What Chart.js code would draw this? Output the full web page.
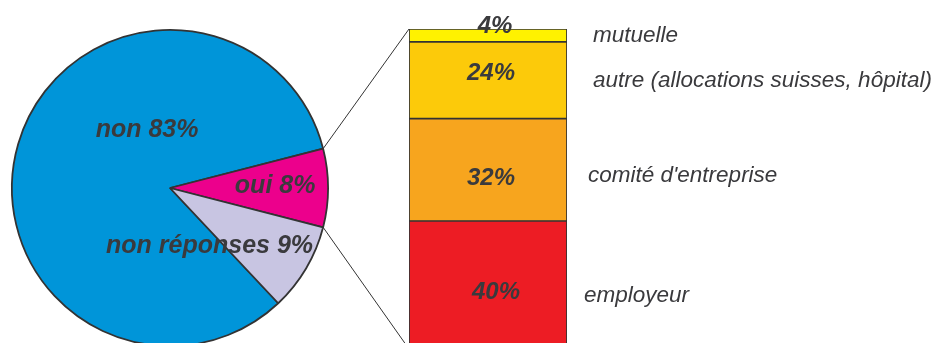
<!DOCTYPE html>
<html>
<head>
<meta charset="utf-8">
<script src="https://cdn.jsdelivr.net/npm/chart.js@4/dist/chart.umd.min.js"></script>
<style>
  html, body { margin: 0; padding: 0; background: #fff; overflow: hidden; }
  .layer { position: absolute; left: 0; top: 0; width: 937px; height: 380px; }
</style>
</head>
<body>
<div class="layer"><canvas id="pieChart"></canvas></div>
<div class="layer"><canvas id="barChart"></canvas></div>
<script>
// réponses à la question (camembert)
const pieLabels = ['non', 'oui', 'non réponses'];
const pieValues = [83, 8, 9];
const pieColors = ['#0095d9', '#ec008c', '#c8c5e2'];

// détail des "oui" : qui finance (barre empilée, du bas vers le haut)
const fundLabels = ['employeur', "comité d'entreprise", 'autre (allocations suisses, hôpital)', 'mutuelle'];
const fundValues = [40, 32, 24, 4];
const fundColors = ['#ed1c24', '#f7a51e', '#fcca0a', '#fff200'];

const textColor = '#3a3a3d';
const lineColor = '#333';

// where each pie label sits, relative to the centre, in radius units
const pieLabelSpots = [[-0.145, -0.365], [0.665, -0.01], [0.25, 0.37]];
// small pixel nudges for the bar texts: [value dx, value dy, name dx, name dy]
const fundNudge = [[8, 7, -7, 11], [3, 9, -3, 6], [3, -7, 2, 1], [7, 3, 2, 2]];

// rotate so the "oui" slice points straight to the right
const pieRotation = 90 - (pieValues[0] + pieValues[1] / 2) * 3.6;

const pieText = {
  id: 'pieText',
  afterDraw(chart) {
    const ctx = chart.ctx;
    const arc = chart.getDatasetMeta(0).data[0];
    ctx.save();
    ctx.font = 'italic bold 25px "Liberation Sans", Arial, sans-serif';
    ctx.fillStyle = textColor;
    ctx.textAlign = 'center';
    ctx.textBaseline = 'middle';
    pieLabels.forEach((lab, i) => {
      const [fx, fy] = pieLabelSpots[i];
      ctx.fillText(lab + ' ' + pieValues[i] + '%', arc.x + fx * arc.outerRadius, arc.y + fy * arc.outerRadius);
    });
    ctx.restore();
  }
};

const pieChart = new Chart(document.getElementById('pieChart'), {
  type: 'pie',
  data: {
    labels: pieLabels,
    datasets: [{
      data: pieValues,
      backgroundColor: pieColors,
      borderColor: lineColor,
      borderWidth: 1.8
    }]
  },
  options: {
    responsive: true,
    maintainAspectRatio: false,
    animation: false,
    rotation: pieRotation,
    layout: { padding: { left: 11, top: 29, right: 608, bottom: 33 } },
    plugins: { legend: { display: false }, tooltip: { enabled: false } }
  },
  plugins: [pieText]
});

const barText = {
  id: 'barText',
  afterDraw(chart) {
    const ctx = chart.ctx;
    const pieArc = pieChart.getDatasetMeta(0).data[1]; // "oui"
    const top = chart.getDatasetMeta(fundValues.length - 1).data[0];
    const bottom = chart.getDatasetMeta(0).data[0];
    const left = top.x - top.width / 2;
    const right = top.x + top.width / 2;

    ctx.save();
    // connectors from the "oui" slice to the bar
    ctx.strokeStyle = lineColor;
    ctx.lineWidth = 1;
    ctx.beginPath();
    ctx.moveTo(pieArc.x + pieArc.outerRadius * Math.cos(pieArc.startAngle),
               pieArc.y + pieArc.outerRadius * Math.sin(pieArc.startAngle));
    ctx.lineTo(left, top.y);
    ctx.moveTo(pieArc.x + pieArc.outerRadius * Math.cos(pieArc.endAngle),
               pieArc.y + pieArc.outerRadius * Math.sin(pieArc.endAngle));
    ctx.lineTo(left, bottom.base);
    ctx.stroke();

    ctx.fillStyle = textColor;
    ctx.textBaseline = 'middle';
    fundValues.forEach((v, i) => {
      const bar = chart.getDatasetMeta(i).data[0];
      const h = bar.base - bar.y;
      const cy = h < 20 ? bar.y - 6 : bar.y + h / 2;
      const ny = h < 20 ? bar.y + 5 : bar.y + h / 2;
      const [vdx, vdy, ndx, ndy] = fundNudge[i];
      ctx.font = 'italic bold 24px "Liberation Sans", Arial, sans-serif';
      ctx.textAlign = 'center';
      ctx.fillText(v + '%', bar.x + vdx, cy + vdy);
      ctx.font = 'italic 22.5px "Liberation Sans", Arial, sans-serif';
      ctx.textAlign = 'left';
      ctx.fillText(fundLabels[i], right + 24 + ndx, ny + ndy);
    });
    ctx.restore();
  }
};

const barChart = new Chart(document.getElementById('barChart'), {
  type: 'bar',
  data: {
    labels: ['oui'],
    datasets: fundLabels.map((lab, i) => ({
      label: lab,
      data: [fundValues[i]],
      backgroundColor: fundColors[i],
      borderColor: lineColor,
      borderWidth: 1.2,
      borderSkipped: false,
      barPercentage: 1,
      categoryPercentage: 1
    }))
  },
  options: {
    responsive: true,
    maintainAspectRatio: false,
    animation: false,
    layout: { padding: { left: 409, top: 29, right: 370, bottom: 31 } },
    scales: {
      x: { display: false, stacked: true },
      y: { display: false, stacked: true, min: 0, max: 100 }
    },
    plugins: { legend: { display: false }, tooltip: { enabled: false } }
  },
  plugins: [barText]
});
</script>
</body>
</html>
